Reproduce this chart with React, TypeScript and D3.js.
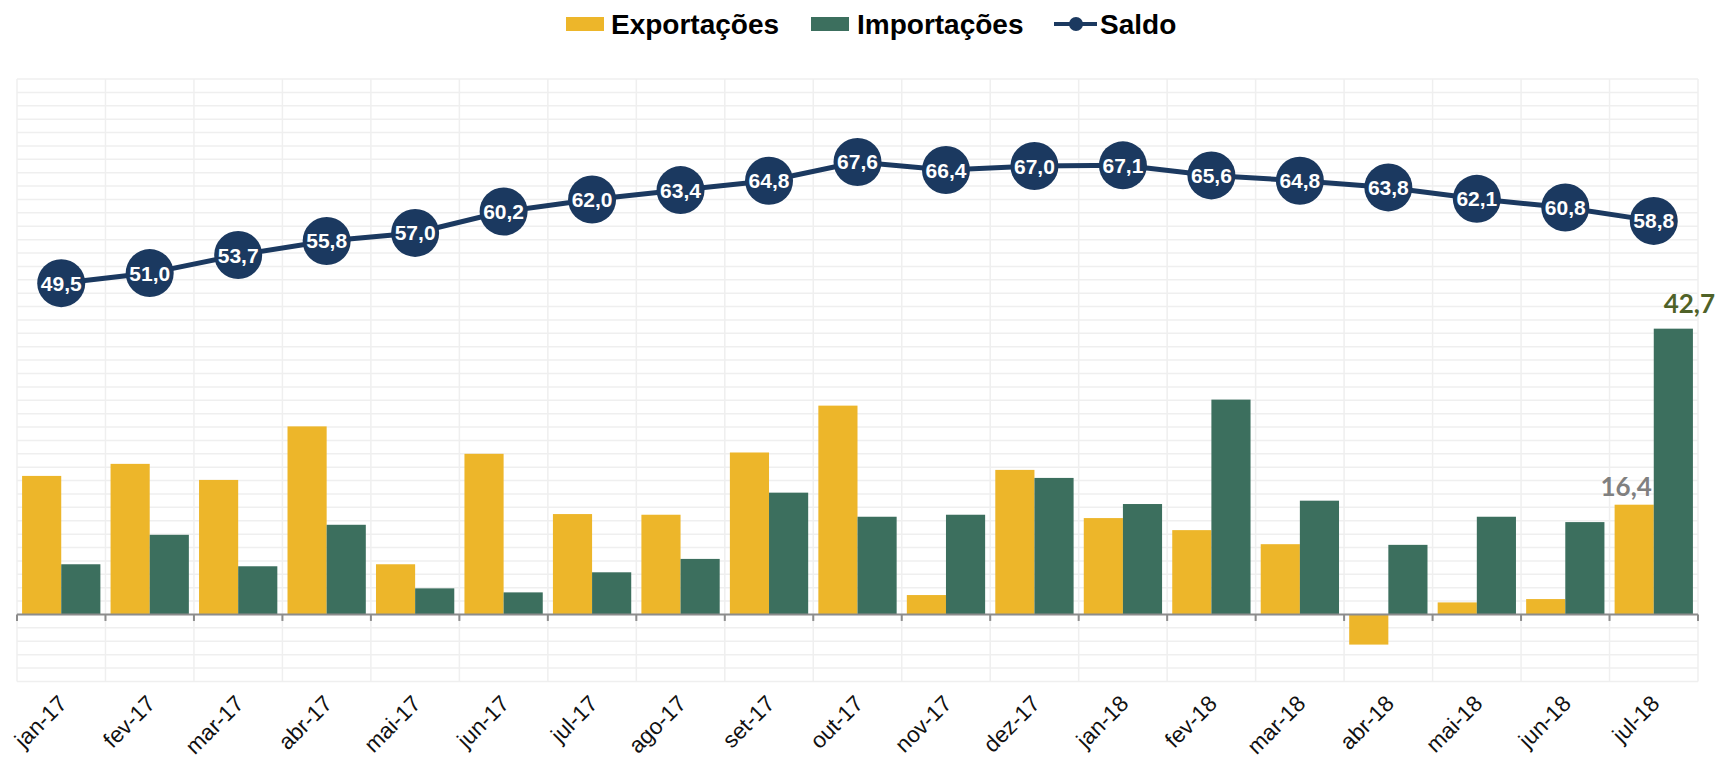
import React from "react";
import * as d3 from "d3";

const months = [
  "jan-17", "fev-17", "mar-17", "abr-17", "mai-17", "jun-17", "jul-17",
  "ago-17", "set-17", "out-17", "nov-17", "dez-17", "jan-18", "fev-18",
  "mar-18", "abr-18", "mai-18", "jun-18", "jul-18",
];
const exportacoes = [20.7, 22.5, 20.1, 28.1, 7.5, 24.0, 15.0, 14.9, 24.2, 31.2, 2.9, 21.6, 14.4, 12.6, 10.5, -4.5, 1.8, 2.3, 16.4];
const importacoes = [7.5, 11.9, 7.2, 13.4, 3.9, 3.3, 6.3, 8.3, 18.2, 14.6, 14.9, 20.4, 16.5, 32.1, 17.0, 10.4, 14.6, 13.8, 42.7];
const saldo = [49.5, 51.0, 53.7, 55.8, 57.0, 60.2, 62.0, 63.4, 64.8, 67.6, 66.4, 67.0, 67.1, 65.6, 64.8, 63.8, 62.1, 60.8, 58.8];
const series = ["Exportações", "Importações"];

const W = 1718;
const H = 760;
const COL_EXP = "#edb62a";
const COL_IMP = "#3c6f5e";
const COL_SALDO = "#1b3960";
const FONT = "'Liberation Sans', Arial, sans-serif";

const fmt = (v: number) => d3.format(".1f")(v).replace(".", ",");

export default function App() {
  const x = d3
    .scaleBand<string>()
    .domain(months)
    .range([17, 1698])
    .paddingInner(0.115)
    .paddingOuter(0.0575);
  const sub = d3.scaleBand<string>().domain(series).range([0, x.bandwidth()]);
  const y = d3.scaleLinear().domain([-10, 80]).range([681.4, 79]);
  const step = x.step();
  const x0 = 17;
  const cx = (m: string) => (x(m) as number) + x.bandwidth() / 2;

  const line = d3
    .line<number>()
    .x((_, i) => cx(months[i]))
    .y((d) => y(d));

  const last = months[months.length - 1];
  const lastExp = exportacoes[exportacoes.length - 1];
  const lastImp = importacoes[importacoes.length - 1];

  // legend entries: swatch x, text x
  const legend = [
    { kind: "rect", color: COL_EXP, label: "Exportações", sx: 566, tx: 611 },
    { kind: "rect", color: COL_IMP, label: "Importações", sx: 811, tx: 857 },
    { kind: "line", color: COL_SALDO, label: "Saldo", sx: 1054, tx: 1100 },
  ];

  return (
    <svg
      width={W}
      height={H}
      style={{ position: "absolute", left: 0, top: 0, background: "#fff" }}
    >
      {/* grid */}
      <g stroke="#efefef" strokeWidth={1.5}>
        {d3.range(-10, 81, 2).map((t) => (
          <line key={"h" + t} x1={x0} x2={x0 + step * months.length} y1={y(t)} y2={y(t)} />
        ))}
        {d3.range(months.length + 1).map((i) => (
          <line key={"v" + i} x1={x0 + i * step} x2={x0 + i * step} y1={y(80)} y2={y(-10)} />
        ))}
      </g>

      {/* bars */}
      {months.map((m, i) =>
        [exportacoes[i], importacoes[i]].map((v, j) => (
          <rect
            key={m + j}
            x={(x(m) as number) + (sub(series[j]) as number)}
            width={sub.bandwidth()}
            y={Math.min(y(v), y(0))}
            height={Math.abs(y(v) - y(0))}
            fill={j === 0 ? COL_EXP : COL_IMP}
          />
        ))
      )}

      {/* zero axis */}
      <g stroke="#8c8c8c" strokeWidth={2}>
        <line x1={x0} x2={x0 + step * months.length} y1={y(0)} y2={y(0)} />
        {d3.range(months.length + 1).map((i) => (
          <line key={"t" + i} x1={x0 + i * step} x2={x0 + i * step} y1={y(0)} y2={y(0) + 6.5} />
        ))}
      </g>

      {/* x labels */}
      {months.map((m) => (
        <text
          key={"l" + m}
          transform={`translate(${cx(m) + 7},${705}) rotate(-45)`}
          textAnchor="end"
          fontFamily={FONT}
          fontSize={22.5}
          fill="#111"
        >
          {m}
        </text>
      ))}

      {/* saldo line */}
      <path d={line(saldo) || ""} fill="none" stroke={COL_SALDO} strokeWidth={5} />
      {saldo.map((v, i) => (
        <g key={"s" + i} transform={`translate(${cx(months[i])},${y(v)})`}>
          <circle r={24} fill={COL_SALDO} />
          <text
            y={7.5}
            textAnchor="middle"
            fontFamily={FONT}
            fontWeight="bold"
            fontSize={21}
            fill="#fff"
          >
            {fmt(v)}
          </text>
        </g>
      ))}

      {/* last value labels */}
      <text
        x={(x(last) as number) + (sub(series[0]) as number) + sub.bandwidth() / 2 - 8}
        y={y(lastExp) - 9}
        textAnchor="middle"
        fontFamily="Lato, 'Open Sans', sans-serif"
        fontWeight="bold"
        fontSize={26}
        fill="#808080"
      >
        {fmt(lastExp)}
      </text>
      <text
        x={(x(last) as number) + (sub(series[1]) as number) + sub.bandwidth() / 2 + 16}
        y={y(lastImp) - 16}
        textAnchor="middle"
        fontFamily="Lato, 'Open Sans', sans-serif"
        fontWeight="bold"
        fontSize={26}
        fill="#4f6228"
      >
        {fmt(lastImp)}
      </text>

      {/* legend */}
      {legend.map((d) => (
        <g key={d.label}>
          {d.kind === "rect" ? (
            <rect x={d.sx} y={17} width={38} height={14} fill={d.color} />
          ) : (
            <g>
              <line x1={d.sx} x2={d.sx + 43} y1={24} y2={24} stroke={d.color} strokeWidth={4} />
              <circle cx={d.sx + 22} cy={24} r={7} fill={d.color} />
            </g>
          )}
          <text
            x={d.tx}
            y={34}
            fontFamily={FONT}
            fontWeight="bold"
            fontSize={28}
            fill="#000"
          >
            {d.label}
          </text>
        </g>
      ))}
    </svg>
  );
}
